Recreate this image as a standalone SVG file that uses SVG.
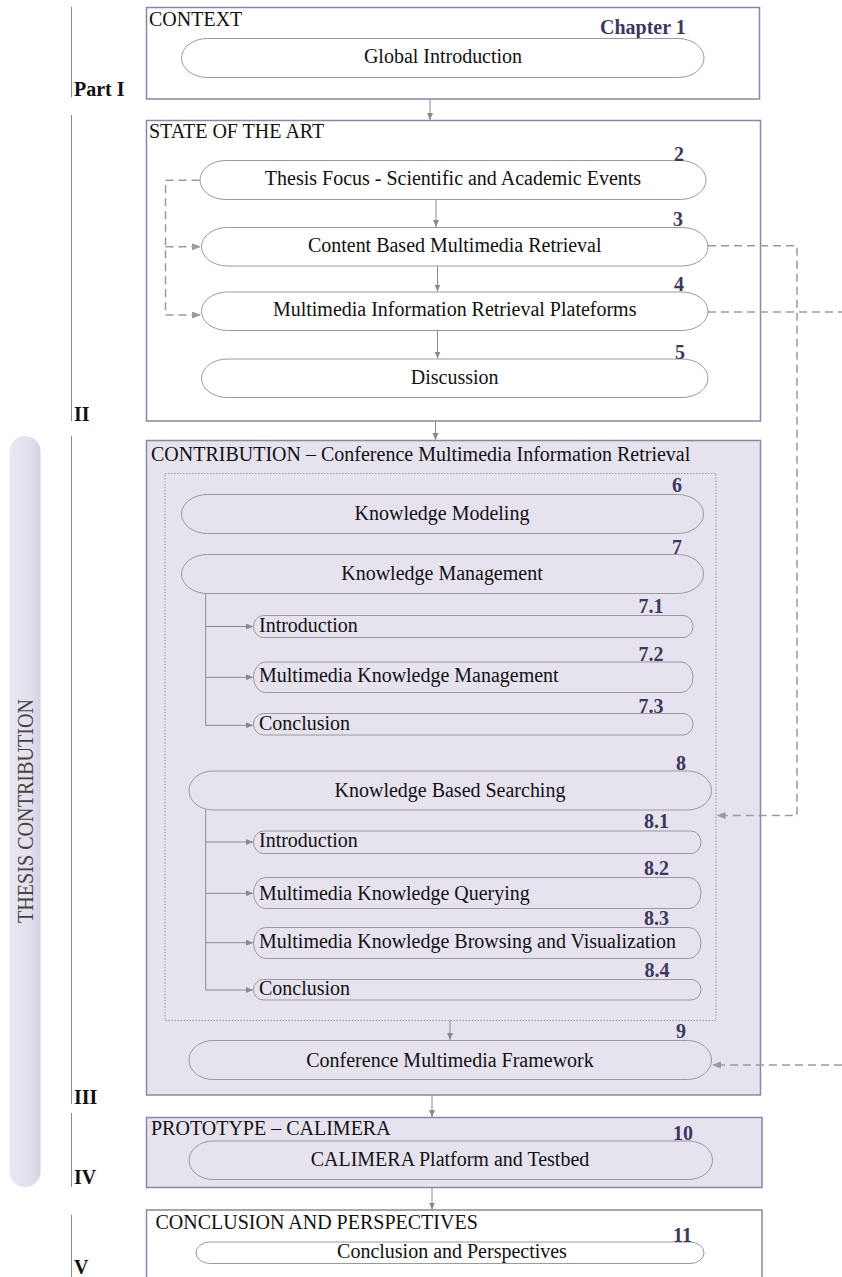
<svg xmlns="http://www.w3.org/2000/svg" width="842" height="1277" viewBox="0 0 842 1277">
<defs>
<style>
.box{fill:#ffffff;stroke:#8a86a8;stroke-width:1.5}
.lav{fill:#e6e3ef;stroke:#8a86a8;stroke-width:1.5}
.pill{fill:none;stroke:#9a9a9a;stroke-width:1}
.pillw{fill:#ffffff;stroke:#9a9a9a;stroke-width:1}
.t{font-family:"Liberation Serif","Times New Roman",serif;font-size:20px;fill:#111}
.s{transform-box:fill-box;transform-origin:50% 80%;transform:scaleY(1.08)}
.c{text-anchor:middle}
.n{font-family:"Liberation Serif","Times New Roman",serif;font-size:20px;font-weight:bold;fill:#3d3760;text-anchor:middle;transform-box:fill-box;transform-origin:50% 80%;transform:scaleY(1.08)}
.p{font-family:"Liberation Serif","Times New Roman",serif;font-size:20px;font-weight:bold;fill:#111}
.part{stroke:#8a8a8a;stroke-width:1}
.arr{stroke:#8a8a8a;stroke-width:1;fill:none;marker-end:url(#ah)}
.tree{stroke:#8a8a8a;stroke-width:1;fill:none}
.dash{stroke:#9a9a9a;stroke-width:1.5;fill:none;stroke-dasharray:8,5}
.dasha{stroke:#9a9a9a;stroke-width:1.5;fill:none;stroke-dasharray:8,5;marker-end:url(#ah2)}
.dot{fill:none;stroke:#9a9a9a;stroke-width:1;stroke-dasharray:1.5,1.5}
</style>
<marker id="ah" markerUnits="userSpaceOnUse" markerWidth="8" markerHeight="8" refX="7" refY="3" orient="auto">
<path d="M0,0 L7,3 L0,6 z" fill="#8a8a8a"/>
</marker>
<marker id="ah2" markerUnits="userSpaceOnUse" markerWidth="10" markerHeight="8" refX="9" refY="3.5" orient="auto">
<path d="M0,0 L9,3.5 L0,7 z" fill="#9a9a9a"/>
</marker>
<linearGradient id="tg" x1="0" y1="0" x2="1" y2="0">
<stop offset="0" stop-color="#e9e7f1"/>
<stop offset="0.7" stop-color="#e2dfec"/>
<stop offset="1" stop-color="#d4d0e2"/>
</linearGradient>
</defs>

<g id="thesis-contribution">
<rect x="9.5" y="436" width="31" height="751" rx="15.5" ry="15.5" fill="url(#tg)"/>
<text class="t" transform="translate(33,811) rotate(-90)" text-anchor="middle" style="font-size:24px;fill:#444" textLength="224" lengthAdjust="spacingAndGlyphs">THESIS CONTRIBUTION</text>
</g>

<g id="parts">
<line class="part" x1="71.5" y1="7" x2="71.5" y2="97"/>
<line class="part" x1="71.5" y1="115" x2="71.5" y2="421"/>
<line class="part" x1="71.5" y1="436" x2="71.5" y2="1104"/>
<line class="part" x1="71.5" y1="1113" x2="71.5" y2="1187"/>
<line class="part" x1="71.5" y1="1215" x2="71.5" y2="1277"/>
<text class="p" x="74" y="96">Part I</text>
<text class="p" x="74" y="421">II</text>
<text class="p" x="74" y="1104">III</text>
<text class="p" x="74" y="1184">IV</text>
<text class="p" x="74" y="1274">V</text>
</g>

<g id="context">
<rect class="box" x="146.5" y="7.5" width="613" height="91.5"/>
<text class="t" x="149" y="26">CONTEXT</text>
<text class="n" x="600" y="34" style="text-anchor:start">Chapter 1</text>
<g id="ch1">
<rect class="pillw" x="181.5" y="38.5" width="522.5" height="39" rx="26" ry="19.5"/>
<text class="t c s" x="443" y="63.5">Global Introduction</text>
</g>
</g>

<g id="state-of-the-art">
<rect class="box" x="146.5" y="120.5" width="614" height="300.5"/>
<text class="t" x="149" y="137.5">STATE OF THE ART</text>
<g id="ch2">
<rect class="pillw" x="200" y="160.5" width="506" height="39" rx="26" ry="19.5"/>
<text class="n" x="679" y="161">2</text>
<text class="t c s" x="453" y="185.5">Thesis Focus - Scientific and Academic Events</text>
</g>
<g id="ch3">
<rect class="pillw" x="201.5" y="227.5" width="506.5" height="38.5" rx="26" ry="19.25"/>
<text class="n" x="678" y="226.5">3</text>
<text class="t c s" x="454.7" y="252.5">Content Based Multimedia Retrieval</text>
</g>
<g id="ch4">
<rect class="pillw" x="201.5" y="292" width="506.5" height="38.5" rx="26" ry="19.25"/>
<text class="n" x="679" y="291.5">4</text>
<text class="t c s" x="454.7" y="316.5">Multimedia Information Retrieval Plateforms</text>
</g>
<g id="ch5">
<rect class="pillw" x="201.5" y="359" width="506.5" height="38.5" rx="26" ry="19.25"/>
<text class="n" x="680" y="359">5</text>
<text class="t c s" x="454.7" y="384">Discussion</text>
</g>
</g>

<g id="contribution">
<rect class="lav" x="146.5" y="440.5" width="614" height="654.5"/>
<text class="t" x="151" y="460.5">CONTRIBUTION – Conference Multimedia Information Retrieval</text>
<rect class="dot" x="165" y="473.5" width="551" height="547"/>
<g id="ch6">
<rect class="pill" x="181.5" y="494.5" width="522" height="39" rx="26" ry="19.5"/>
<text class="n" x="677" y="492">6</text>
<text class="t c s" x="442" y="520">Knowledge Modeling</text>
</g>
<g id="ch7">
<rect class="pill" x="181.5" y="554.5" width="522" height="39" rx="26" ry="19.5"/>
<text class="n" x="677" y="554">7</text>
<text class="t c s" x="442" y="580">Knowledge Management</text>
</g>
<g id="ch7-1">
<rect class="pill" x="253.5" y="615.5" width="439.5" height="22" rx="10" ry="11"/>
<text class="n" x="651" y="613.5">7.1</text>
<text class="t s" x="259" y="632">Introduction</text>
</g>
<g id="ch7-2">
<rect class="pill" x="253.5" y="662" width="439.5" height="30.5" rx="12" ry="15.25"/>
<text class="n" x="651" y="661">7.2</text>
<text class="t s" x="259" y="682.5">Multimedia Knowledge Management</text>
</g>
<g id="ch7-3">
<rect class="pill" x="253.5" y="713.5" width="439.5" height="21.5" rx="10" ry="10.75"/>
<text class="n" x="651" y="713">7.3</text>
<text class="t s" x="259" y="730">Conclusion</text>
</g>
<g id="ch8">
<rect class="pill" x="189" y="771" width="522.5" height="39" rx="24" ry="19.5"/>
<text class="n" x="681" y="770">8</text>
<text class="t c s" x="450" y="797">Knowledge Based Searching</text>
</g>
<g id="ch8-1">
<rect class="pill" x="253.5" y="831" width="447.5" height="22.5" rx="10" ry="11.25"/>
<text class="n" x="656.5" y="828.5">8.1</text>
<text class="t s" x="259" y="847">Introduction</text>
</g>
<g id="ch8-2">
<rect class="pill" x="253.5" y="877.5" width="447.5" height="31" rx="12" ry="15.5"/>
<text class="n" x="656.5" y="875">8.2</text>
<text class="t s" x="259" y="900">Multimedia Knowledge Querying</text>
</g>
<g id="ch8-3">
<rect class="pill" x="253.5" y="927.5" width="447.5" height="31" rx="12" ry="15.5"/>
<text class="n" x="656.5" y="925">8.3</text>
<text class="t s" x="259" y="948.5">Multimedia Knowledge Browsing and Visualization</text>
</g>
<g id="ch8-4">
<rect class="pill" x="253.5" y="979.5" width="447.5" height="20.5" rx="10" ry="10.25"/>
<text class="n" x="657" y="977.5">8.4</text>
<text class="t s" x="259" y="995">Conclusion</text>
</g>
<g id="ch9">
<rect class="pill" x="189" y="1040.5" width="522.5" height="39" rx="24" ry="19.5"/>
<text class="n" x="681" y="1038.5">9</text>
<text class="t c s" x="450" y="1067">Conference Multimedia Framework</text>
</g>
</g>

<g id="prototype">
<rect class="lav" x="146.5" y="1117.5" width="615.5" height="70"/>
<text class="t" x="151" y="1135">PROTOTYPE – CALIMERA</text>
<g id="ch10">
<rect class="pill" x="189" y="1141" width="523.5" height="38.5" rx="24" ry="19.25"/>
<text class="n" x="683" y="1140">10</text>
<text class="t c s" x="450" y="1166">CALIMERA Platform and Testbed</text>
</g>
</g>

<g id="conclusion">
<rect class="box" x="146.5" y="1210" width="615.5" height="80"/>
<text class="t" x="155.5" y="1228.5">CONCLUSION AND PERSPECTIVES</text>
<g id="ch11">
<rect class="pillw" x="196" y="1242" width="508" height="21.5" rx="14" ry="10.75"/>
<text class="n" x="682.5" y="1242">11</text>
<text class="t c s" x="452" y="1258.5">Conclusion and Perspectives</text>
</g>
</g>

<g id="connectors">
<line class="arr" x1="430" y1="99" x2="430" y2="120"/>
<line class="arr" x1="436" y1="199.5" x2="436" y2="227"/>
<line class="arr" x1="437.5" y1="266" x2="437.5" y2="291.5"/>
<line class="arr" x1="437.5" y1="330.5" x2="437.5" y2="358.5"/>
<line class="arr" x1="435.5" y1="421" x2="435.5" y2="440"/>
<line class="arr" x1="450" y1="1020.5" x2="450" y2="1040"/>
<line class="arr" x1="432" y1="1095" x2="432" y2="1117"/>
<line class="arr" x1="432" y1="1188" x2="432" y2="1209.5"/>
<path class="tree" d="M205.7,593.5 V725.3"/>
<line class="arr" x1="205.7" y1="626.5" x2="253" y2="626.5"/>
<line class="arr" x1="205.7" y1="677.3" x2="253" y2="677.3"/>
<line class="arr" x1="205.7" y1="725.3" x2="253" y2="725.3"/>
<path class="tree" d="M205.7,810 V990"/>
<line class="arr" x1="205.7" y1="842" x2="253" y2="842"/>
<line class="arr" x1="205.7" y1="893.3" x2="253" y2="893.3"/>
<line class="arr" x1="205.7" y1="942.7" x2="253" y2="942.7"/>
<line class="arr" x1="205.7" y1="990" x2="253" y2="990"/>
<path class="dash" d="M199.5,180.3 H165.5 V315"/>
<path class="dasha" d="M165.5,246.7 H201"/>
<path class="dasha" d="M165.5,315 H201"/>
<path class="dasha" d="M708,245.7 H797 V815.5 H716.5"/>
<path class="dash" d="M708,312 H842"/>
<path class="dasha" d="M842,1065 H712"/>
</g>
</svg>
